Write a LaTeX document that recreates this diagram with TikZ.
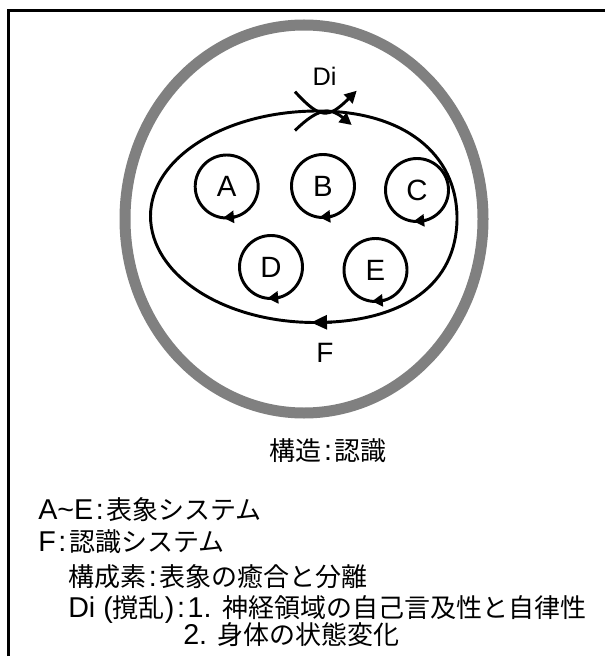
\documentclass[tikz,border=0pt]{standalone}
\usepackage{fontspec}
\setmainfont{Liberation Sans}
\newfontfamily\jp{Noto Sans CJK JP}
\usetikzlibrary{arrows.meta,shapes.geometric,calc}
\definecolor{ring}{RGB}{128,128,128}
\newcommand\jtxt[1]{{\jp\fontsize{19.5}{24}\selectfont #1}}
\newcommand\colsep{\kern2pt:\kern2pt}
\begin{document}
\begin{tikzpicture}[x=0.75pt,y=-0.75pt,
  thick line/.style={line width=2.2pt},
  sub/.style={circle,draw,line width=2.2pt,minimum size=47.25pt,inner sep=0pt,outer sep=0pt,font=\fontsize{22}{26}\selectfont},
  smalltip/.style={-{Triangle[length=8pt,width=9pt]}},
  bigtip/.style={-{Triangle[length=12pt,width=10.5pt]}},
  ditip/.style={-{Triangle[length=9pt,width=9pt]}},
  legend/.style={anchor=base west,inner sep=0pt,font=\fontsize{21.5}{26}\selectfont}
]
\useasboundingbox (0,0) rectangle (604,659);
% frame
\coordinate (fr1) at (8.3,656);
\coordinate (fr2) at (8.3,10.7);
\coordinate (fr3) at (606,10.7);
\draw[line width=2.5pt] (fr1) -- (fr2) -- (fr3);
% outer gray ring
\node[ellipse,draw=ring,line width=8.25pt,minimum width=268.5pt,minimum height=291pt,inner sep=0pt,outer sep=0pt] (cell) at (304,219) {};
% system loop (slightly boxy ellipse)
\coordinate (sL) at (150.5,216);
\coordinate (sT) at (318,111);
\coordinate (sR) at (457,218);
\coordinate (sB) at (315,322.5);
\draw[thick line] (sL) .. controls (150.5,158) and (225,111) .. (sT)
  .. controls (404,111) and (457,154) .. (sR)
  .. controls (457,284) and (404,322.5) .. (sB)
  .. controls (224,322.5) and (150.5,275) .. (sL) -- cycle;
% representation circles
\node[sub] (A) at (226.7,186.5) {A};
\node[sub] (B) at (323,186) {B};
\node[sub] (C) at (417,190) {C};
\node[sub] (D) at (271,267) {D};
\node[sub] (E) at (375.5,270) {E};
\foreach \n in {A,B,C,D,E}{
  \draw[thick line,smalltip] ($(\n.south)+(9,-1.3)$) -- ($(\n.south)+(-3.5,-0.2)$);
}
% F arrow on the loop
\coordinate (fa) at (332,322.2);
\coordinate (fb) at (311,322.5);
\draw[thick line,bigtip] (fa) -- (fb);
\node[inner sep=0pt,font=\fontsize{21}{25}\selectfont] (F) at (325,353) {F};
% Di crossing curves
\coordinate (d1s) at (295,91.7);
\coordinate (d1e) at (356.7,90.7);
\coordinate (d2s) at (295,130.5);
\coordinate (d2e) at (351.7,125);
\draw[thick line,ditip] (d1s) .. controls (320,119) and (328,119) .. (d1e);
\draw[thick line,ditip] (d2s) .. controls (318,108) and (330,107) .. (d2e);
\node[inner sep=0pt,font=\fontsize{19}{23}\selectfont] (Di) at (324.5,76) {Di};
% caption
\node[inner sep=0pt,font=\fontsize{21.5}{26}\selectfont] (cap) at (328,450.5) {\jtxt{構造}\colsep\jtxt{認識}};
% legend
\node[legend] (l1) at (38,519) {A\textasciitilde E\colsep\jtxt{表象システム}};
\node[legend] (l2) at (38,551) {F\colsep\jtxt{認識システム}};
\node[legend] (l3) at (68,586) {\jtxt{構成素}\colsep\jtxt{表象の癒合と分離}};
\node[legend] (l4) at (68,617.5) {Di (\jtxt{撹乱})\colsep 1. \jtxt{神経領域の自己言及性と自律性}};
\node[legend] (l5) at (183,644.5) {2. \jtxt{身体の状態変化}};
\end{tikzpicture}
\end{document}
